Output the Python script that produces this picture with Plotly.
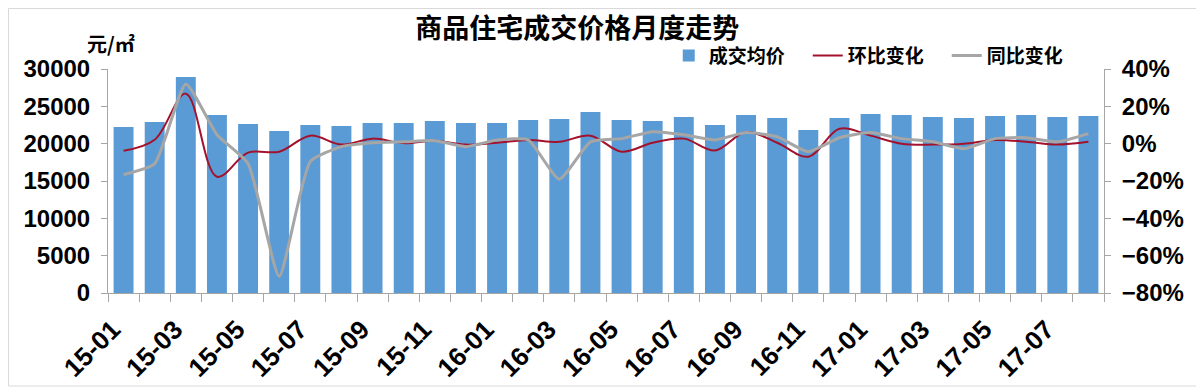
import plotly.graph_objects as go

months = ["15-01","15-02","15-03","15-04","15-05","15-06","15-07","15-08","15-09","15-10","15-11","15-12",
          "16-01","16-02","16-03","16-04","16-05","16-06","16-07","16-08","16-09","16-10","16-11","16-12",
          "17-01","17-02","17-03","17-04","17-05","17-06","17-07","17-08"]
avg_price = [22230, 22900, 28930, 23840, 22630, 21700, 22500, 22370, 22770, 22770, 23040, 22770,
             22770, 23170, 23300, 24240, 23170, 23040, 23570, 22500, 23840, 23440, 21830, 23440,
             23970, 23840, 23570, 23440, 23700, 23840, 23570, 23700]
mom_pct = [-3.8, 2.1, 26.8, -17.7, -4.8, -4.3, 4.3, -0.5, 2.7, 0.3, 1.6, -0.5,
           0.5, 2.0, 1.0, 4.3, -4.3, 0.5, 2.7, -3.7, 6.2, 0.5, -7.0, 8.0,
           4.3, 0.0, -0.5, 0.0, 2.0, 1.0, -0.5, 1.0]
yoy_pct = [-16.6, -10.7, 32.0, 4.8, -10.7, -71.0, -9.6, -1.6, 0.5, 1.0, 1.6, -1.6,
           2.0, 2.0, -19.0, 1.0, 2.7, 6.4, 4.8, 2.0, 6.0, 3.7, -4.3, 3.2,
           6.0, 2.7, 1.0, -2.7, 2.7, 3.2, 1.0, 5.4]

title_text = "商品住宅成交价格月度走势"
unit_text = "元/㎡"
names = ["成交均价", "环比变化", "同比变化"]

xs = list(range(len(months)))
FONT = "Liberation Sans, Arial, Noto Sans CJK SC, sans-serif"
CJK = "Noto Sans CJK SC, Microsoft YaHei, sans-serif"

# page body has an 8px margin: figure occupies screen x 8..1204, y 8..388
W, H = 1196, 380
L, R, T, B = 100, 100, 61, 95
PW, PH = W - L - R, H - T - B
LABEL_SHIFT = 0.35  # rotated label anchor nudge (in category units)

fig = go.Figure()
fig.add_trace(go.Bar(x=xs, y=avg_price, name=names[0], marker=dict(color="#5b9bd5", line=dict(width=0)),
                     width=0.64))
fig.add_trace(go.Scatter(x=xs, y=mom_pct, name=names[1], yaxis="y2", mode="lines",
                         line=dict(color="#a3122d", width=2, shape="spline", smoothing=1.0)))
fig.add_trace(go.Scatter(x=xs, y=yoy_pct, name=names[2], yaxis="y2", mode="lines",
                         line=dict(color="#a6a6a6", width=3, shape="spline", smoothing=0.5)))

axis_line = "#a6a6a6"
fig.update_layout(
    width=W, height=H,
    margin=dict(l=L, r=R, t=T, b=B, autoexpand=False),
    paper_bgcolor="white", plot_bgcolor="white",
    showlegend=True,
    title=dict(text=title_text, x=0.476, xanchor="center", y=0.947, yanchor="middle",
               font=dict(family=CJK, size=27, color="black", weight="bold")),
    legend=dict(orientation="h", x=0.563, xanchor="left", y=1.06, yanchor="middle",
                font=dict(family=CJK, size=19, color="black", weight="bold"),
                bgcolor="rgba(0,0,0,0)", itemwidth=30, traceorder="normal",
                entrywidth=94, entrywidthmode="pixels"),
    bargap=0.35,
    xaxis=dict(range=[-0.5, len(months) - 0.5], tickmode="array",
               tickvals=[i - LABEL_SHIFT for i in xs[::2]], ticktext=months[::2], tickangle=-45,
               ticks="outside", ticklen=10, tickcolor="rgba(0,0,0,0)", automargin=False,
               minor=dict(tick0=-0.5, dtick=1, ticks="outside", ticklen=8, tickcolor=axis_line),
               showline=True, linecolor=axis_line, linewidth=1, showgrid=False, zeroline=False,
               tickfont=dict(family=FONT, size=26, color="black", weight="bold")),
    yaxis=dict(range=[0, 30000], dtick=5000, tickformat="d", ticks="outside", ticklen=6, tickcolor=axis_line,
               showline=True, linecolor=axis_line, linewidth=1, showgrid=False, zeroline=False,
               ticklabelstandoff=6, automargin=False,
               tickfont=dict(family=FONT, size=24, color="black", weight="bold")),
    yaxis2=dict(range=[-80, 40], dtick=20, ticksuffix="%", overlaying="y", side="right",
                ticks="outside", ticklen=6, tickcolor=axis_line, automargin=False,
                showline=True, linecolor=axis_line, linewidth=1, showgrid=False, zeroline=False,
                ticklabelstandoff=6,
                tickfont=dict(family=FONT, size=24, color="black", weight="bold")),
    annotations=[dict(text=unit_text, xref="paper", yref="paper", x=0.003, y=1.112,
                      xanchor="center", yanchor="middle", showarrow=False,
                      font=dict(family=CJK, size=20, color="black", weight="bold"))],
    shapes=[dict(type="rect", xref="paper", yref="paper",
                 x0=(0.5 - L) / PW, x1=(1194 - L) / PW,
                 y0=(T + PH - 378) / PH, y1=(T + PH - 0.5) / PH,
                 line=dict(color="#d9d9d9", width=1), fillcolor="rgba(0,0,0,0)", layer="below")],
)

fig.write_html("out.html")
